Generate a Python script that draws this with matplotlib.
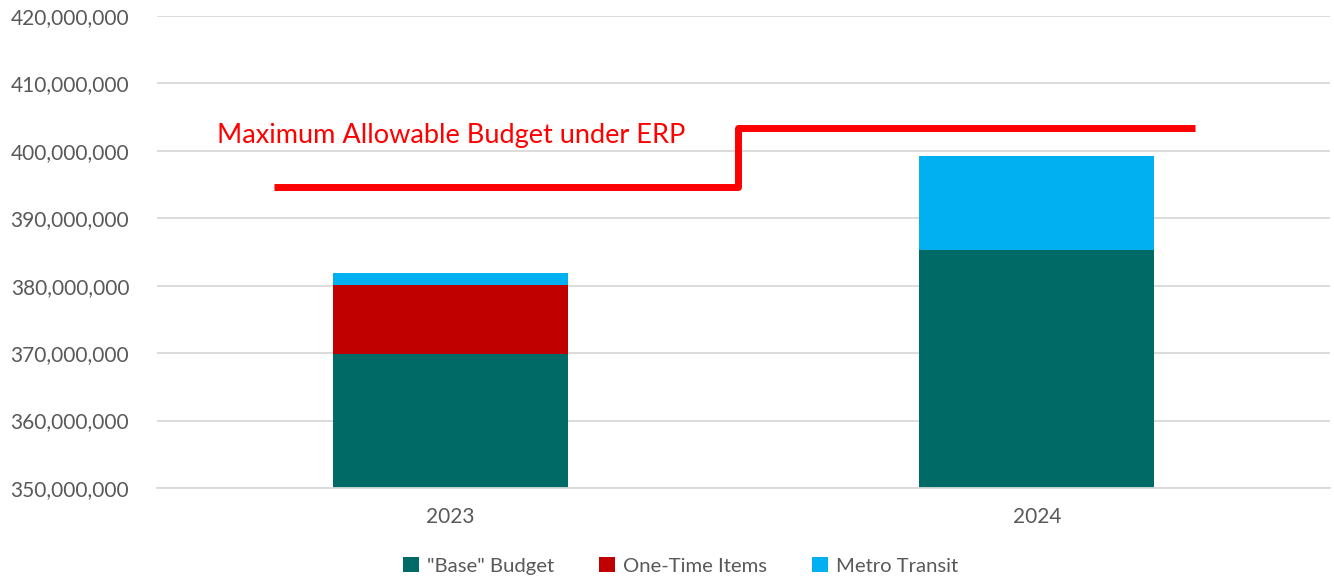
import matplotlib.pyplot as plt
import numpy as np

years = ['2023', '2024']
base_budget = [369.9e6, 385.3e6]
one_time = [10.2e6, 0.0]
metro_transit = [1.8e6, 13.9e6]
max_allowable = [394.6e6, 403.4e6]

plt.rcParams['font.family'] = ['Lato', 'DejaVu Sans']

fig = plt.figure(figsize=(13.34, 5.86), dpi=100)
ax = fig.add_axes([157 / 1334, 1 - 488 / 586, (1330 - 157) / 1334, (488 - 16) / 586])

x = np.arange(len(years))
w = 0.4
ax.bar(x, base_budget, w, bottom=0, color='#006A67', label='"Base" Budget', zorder=2)
ax.bar(x, one_time, w, bottom=base_budget, color='#C00000', label='One-Time Items', zorder=2)
bottom2 = np.array(base_budget) + np.array(one_time)
ax.bar(x, metro_transit, w, bottom=bottom2, color='#00B0F0', label='Metro Transit', zorder=2)

# step line for the ERP limit
ax.stairs(max_allowable, edges=[-0.3, 0.49, 1.27], baseline=None, color='#FF0000',
          linewidth=5, joinstyle='round', zorder=3)
ax.text(-0.398, 400.4e6, 'Maximum Allowable Budget under ERP', color='#FF0000',
        fontsize=19.5, va='bottom', ha='left')

ax.set_ylim(350e6, 420e6)
ax.set_xlim(-0.5, 1.5)
ax.set_yticks(np.arange(350e6, 420e6 + 1, 10e6))
ax.yaxis.set_major_formatter(plt.FuncFormatter(lambda v, p: f'{v:,.0f}'))
ax.set_xticks(x)
ax.set_xticklabels(years)
ax.grid(axis='y', color='#D9D9D9', linewidth=1.3, zorder=0)
for s in ['top', 'right', 'left']:
    ax.spines[s].set_visible(False)
ax.spines['bottom'].set_color('#D9D9D9')
ax.spines['bottom'].set_linewidth(1.3)
ax.tick_params(axis='both', length=0, labelsize=15, colors='#595959', pad=20)
ax.tick_params(axis='x', pad=14)

fig.legend(loc='lower center', bbox_to_anchor=(0.51, -0.012), ncol=3, frameon=False,
           fontsize=14.6, labelcolor='#595959', handlelength=0.8, handleheight=0.8,
           handletextpad=0.4, columnspacing=2.2)

fig.savefig('out.png', dpi=100)
